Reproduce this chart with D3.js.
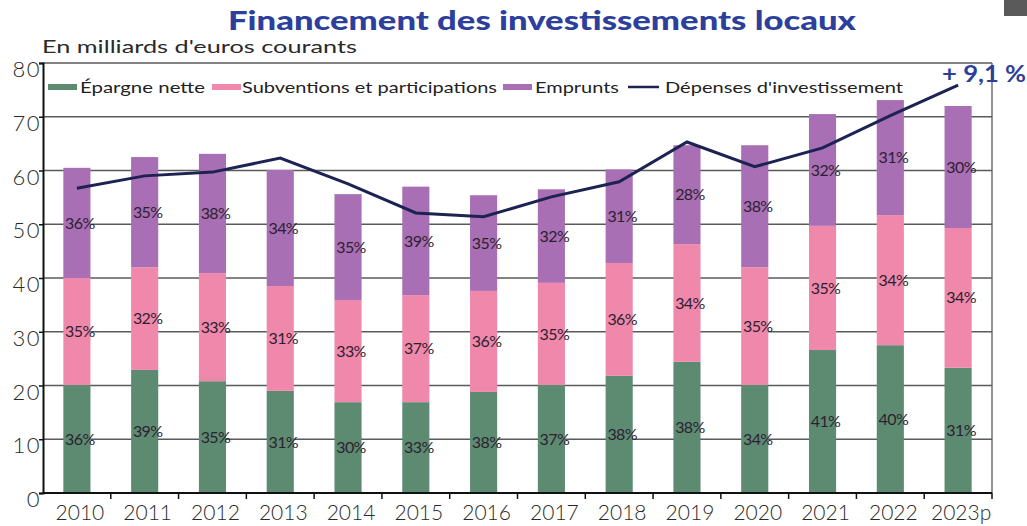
<!DOCTYPE html>
<html><head><meta charset="utf-8">
<script src="https://cdn.jsdelivr.net/npm/d3@7"></script>
<style>
html,body{margin:0;padding:0;background:#fff;}
svg{display:block;font-family:Lato,"Open Sans",sans-serif;}
</style></head>
<body>
<svg id="c" width="1027" height="526"></svg>
<script>
const years = ["2010","2011","2012","2013","2014","2015","2016","2017","2018","2019","2020","2021","2022","2023p"];
const epargne = [20.1,22.9,20.8,19.0,16.9,16.9,18.8,20.1,21.8,24.4,20.1,26.6,27.5,23.3];
const subventions = [19.9,19.1,20.1,19.5,19.0,19.9,18.8,19.0,21.0,21.9,21.9,23.1,24.2,26.0];
const emprunts = [20.5,20.5,22.2,21.6,19.7,20.2,17.8,17.4,17.4,18.4,22.7,20.8,21.4,22.7];
const depenses = [56.7,59.0,59.7,62.3,57.5,52.1,51.4,55.1,57.9,65.3,60.7,64.2,70.2,75.9];
const pctEpargne = ["36%","39%","35%","31%","30%","33%","38%","37%","38%","38%","34%","41%","40%","31%"];
const pctSubv = ["35%","32%","33%","31%","33%","37%","36%","35%","36%","34%","35%","35%","34%","34%"];
const pctEmpr = ["36%","35%","38%","34%","35%","39%","35%","32%","31%","28%","38%","32%","31%","30%"];
const yTicks = [0,10,20,30,40,50,60,70,80];
const seriesNames = ["Épargne nette","Subventions et participations","Emprunts"];
const lineName = "Dépenses d'investissement";
const title = "Financement des investissements locaux";
const subtitle = "En milliards d'euros courants";
const annotation = "+ 9,1 %";

const colors = ["#5c8b72","#ef88aa","#a86fb4"];
const lineColor = "#1c2353";

const svg = d3.select("#c");
const L = 43, R = 992, T = 63, B = 493;

const x = d3.scaleBand().domain(years).range([L, R]).padding(0);
const y = d3.scaleLinear().domain([0, 80]).range([B, T]);
const barW = x.bandwidth() * 0.4;

// grid
svg.append("g").selectAll("line").data(yTicks.filter(d => d > 0)).join("line")
  .attr("x1", L).attr("x2", R).attr("y1", d => y(d)).attr("y2", d => y(d))
  .attr("stroke", "#5a5a5a").attr("stroke-width", 1.3);
svg.append("line").attr("x1", R).attr("x2", R).attr("y1", y(80)).attr("y2", y(0))
  .attr("stroke", "#5a5a5a").attr("stroke-width", 1.3);

// stacked data
const rows = years.map((yr, i) => ({year: yr, a: epargne[i], b: subventions[i], c: emprunts[i]}));
const stack = d3.stack().keys(["a","b","c"])(rows);
const pcts = [pctEpargne, pctSubv, pctEmpr];

const gBars = svg.append("g");
stack.forEach((layer, k) => {
  gBars.selectAll(null).data(layer).join("rect")
    .attr("x", d => x(d.data.year) + (x.bandwidth() - barW) / 2)
    .attr("width", barW)
    .attr("y", d => y(d[1]))
    .attr("height", d => y(d[0]) - y(d[1]))
    .attr("fill", colors[k]);
});
stack.forEach((layer, k) => {
  gBars.selectAll(null).data(layer).join("text")
    .attr("x", d => x(d.data.year) + x.bandwidth() / 2 + 3)
    .attr("y", d => y((d[0] + d[1]) / 2))
    .attr("dy", "0.35em")
    .attr("text-anchor", "middle")
    .attr("font-size", 16)
    .attr("letter-spacing", -0.6)
    .attr("fill", "#2e1f30")
    .text((d, i) => pcts[k][i]);
});

// line
const line = d3.line().x((d, i) => x(years[i]) + x.bandwidth() / 2).y(d => y(d));
svg.append("path").datum(depenses).attr("d", line)
  .attr("fill", "none").attr("stroke", lineColor).attr("stroke-width", 3)
  .attr("stroke-linejoin", "miter");

// y axis
const yAxis = svg.append("g").attr("transform", `translate(${L},0)`)
  .call(d3.axisLeft(y).tickValues(yTicks).tickSize(4).tickPadding(-2));
yAxis.select(".domain").attr("stroke", "#111").attr("stroke-width", 2);
yAxis.selectAll(".tick line").attr("stroke", "#111").attr("stroke-width", 1.5);
yAxis.selectAll("text").attr("font-size", 22).attr("fill", "#2a2a2a").attr("font-family", "Lato")
  .attr("font-weight", 300).attr("letter-spacing", 1.5).attr("dy", "0.62em");

// x axis
const xAxis = svg.append("g").attr("transform", `translate(0,${B})`)
  .call(d3.axisBottom(x).tickSize(0).tickPadding(12));
xAxis.select(".domain").remove();
xAxis.selectAll("text").attr("font-size", 21).attr("fill", "#2a2a2a").attr("font-family", "Lato")
  .attr("font-weight", 300).attr("dx", 3);
svg.append("line").attr("x1", L).attr("x2", R).attr("y1", B).attr("y2", B)
  .attr("stroke", "#111").attr("stroke-width", 2);
svg.append("g").selectAll("line").data(years.slice(1).concat(["__end"])).join("line")
  .attr("x1", d => d === "__end" ? R : x(d)).attr("x2", d => d === "__end" ? R : x(d))
  .attr("y1", B).attr("y2", B + 6).attr("stroke", "#111").attr("stroke-width", 1.5);

// title
svg.append("text").attr("x", 228).attr("y", 30).attr("font-size", 27).attr("font-weight", 900)
  .attr("font-family", "Lato").attr("fill", "#2d3f9c")
  .attr("textLength", 628).attr("lengthAdjust", "spacingAndGlyphs").text(title);
svg.append("text").attr("x", 42).attr("y", 53).attr("font-size", 18)
  .attr("fill", "#2a2a2a").attr("textLength", 315).attr("lengthAdjust", "spacingAndGlyphs").text(subtitle);

// legend
const legY = 87;
const legItems = [
  {name: seriesNames[0], sx: 48, tx: 80, tw: 125, type: "rect", c: colors[0]},
  {name: seriesNames[1], sx: 212, tx: 242, tw: 255, type: "rect", c: colors[1]},
  {name: seriesNames[2], sx: 503, tx: 535, tw: 84, type: "rect", c: colors[2]},
  {name: lineName, sx: 628, tx: 665, tw: 238, type: "line", c: lineColor}
];
const gl = svg.append("g");
legItems.forEach(it => {
  if (it.type === "rect") {
    gl.append("rect").attr("x", it.sx).attr("y", legY - 3).attr("width", 29).attr("height", 6).attr("fill", it.c);
  } else {
    gl.append("line").attr("x1", it.sx).attr("x2", it.sx + 31).attr("y1", legY).attr("y2", legY)
      .attr("stroke", it.c).attr("stroke-width", 2.5);
  }
  gl.append("text").attr("x", it.tx).attr("y", legY).attr("dy", "0.35em").attr("font-size", 16)
    .attr("fill", "#222").attr("textLength", it.tw).attr("lengthAdjust", "spacingAndGlyphs").text(it.name);
});

// annotation
const lastX = x(years[years.length - 1]) + x.bandwidth() / 2;
svg.append("text").attr("x", lastX - 16).attr("y", y(depenses[depenses.length - 1]) - 3)
  .attr("font-size", 23).attr("font-weight", 700).attr("fill", "#2d3f9c")
  .attr("textLength", 84).attr("lengthAdjust", "spacingAndGlyphs").text(annotation);

// corner artifact
svg.append("rect").attr("x", 1004).attr("y", 0).attr("width", 23).attr("height", 16).attr("fill", "#5a5a5a");
</script>
</body></html>
